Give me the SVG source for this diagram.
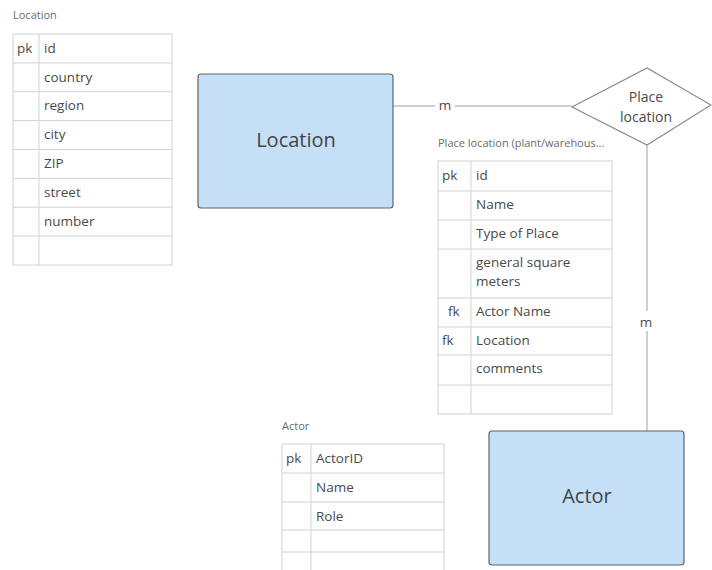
<svg xmlns="http://www.w3.org/2000/svg" width="712" height="570" viewBox="0 0 712 570">
  <style>
    .title { font-family: "Open Sans", "Liberation Sans", sans-serif; font-size: 11px; fill: #6b6b6b; }
    .cell { font-family: "Open Sans", "Liberation Sans", sans-serif; font-size: 13.5px; fill: #4a4a4a; }
    .grid { fill: #ffffff; stroke: #d2d2d2; stroke-width: 1; }
    .line { stroke: #d2d2d2; stroke-width: 1; }
    .entity { fill: #c5e0f6; stroke: #5f6368; stroke-width: 1.2; }
    .big { font-family: "Open Sans", "Liberation Sans", sans-serif; font-size: 20px; fill: #3f4448; text-anchor: middle; }
    .rel { fill: #ffffff; stroke: #8a8a8a; stroke-width: 1.2; }
    .relText { font-family: "Open Sans", "Liberation Sans", sans-serif; font-size: 14px; fill: #4a4a4a; text-anchor: middle; }
    .conn { stroke: #a0a0a0; stroke-width: 1; fill: none; }
    .card { font-family: "Open Sans", "Liberation Sans", sans-serif; font-size: 13.5px; fill: #4a4a4a; text-anchor: middle; }
  </style>
  <rect width="712" height="570" fill="#ffffff"/>

  <!-- connectors -->
  <g id="connectors">
    <line class="conn" x1="393" y1="106" x2="435" y2="106"/>
    <line class="conn" x1="455" y1="106" x2="572" y2="106"/>
    <text class="card" x="445" y="110">m</text>
    <line class="conn" x1="647" y1="145" x2="647" y2="311"/>
    <line class="conn" x1="647" y1="331" x2="647" y2="431"/>
    <text class="card" x="646" y="327">m</text>
  </g>

  <!-- Location table -->
  <g id="table-location">
    <text class="title" x="13" y="19">Location</text>
    <rect class="grid" x="13" y="34" width="159" height="231"/>
    <line class="line" x1="39" y1="34" x2="39" y2="265"/>
    <line class="line" x1="13" y1="62.9" x2="172" y2="62.9"/>
    <line class="line" x1="13" y1="91.8" x2="172" y2="91.8"/>
    <line class="line" x1="13" y1="120.6" x2="172" y2="120.6"/>
    <line class="line" x1="13" y1="149.5" x2="172" y2="149.5"/>
    <line class="line" x1="13" y1="178.4" x2="172" y2="178.4"/>
    <line class="line" x1="13" y1="207.2" x2="172" y2="207.2"/>
    <line class="line" x1="13" y1="236.1" x2="172" y2="236.1"/>
    <text class="cell" x="17" y="53">pk</text>
    <text class="cell" x="44" y="53">id</text>
    <text class="cell" x="44" y="82">country</text>
    <text class="cell" x="44" y="110">region</text>
    <text class="cell" x="44" y="139">city</text>
    <text class="cell" x="44" y="168">ZIP</text>
    <text class="cell" x="44" y="197">street</text>
    <text class="cell" x="44" y="226">number</text>
  </g>

  <!-- Location entity -->
  <g id="entity-location">
    <rect class="entity" x="198" y="74" width="195" height="134" rx="3"/>
    <text class="big" x="296" y="147">Location</text>
  </g>

  <!-- Place location relationship -->
  <g id="rel-place-location">
    <polygon class="rel" points="572,107 647,68 711,105 647,145"/>
    <text class="relText" x="646" y="102">Place</text>
    <text class="relText" x="646" y="122">location</text>
  </g>

  <!-- Place location table -->
  <g id="table-place-location">
    <text class="title" x="438" y="147">Place location (plant/warehous...</text>
    <rect class="grid" x="438" y="161" width="174" height="253"/>
    <line class="line" x1="471" y1="161" x2="471" y2="414"/>
    <line class="line" x1="438" y1="191" x2="612" y2="191"/>
    <line class="line" x1="438" y1="220" x2="612" y2="220"/>
    <line class="line" x1="438" y1="249" x2="612" y2="249"/>
    <line class="line" x1="438" y1="298" x2="612" y2="298"/>
    <line class="line" x1="438" y1="327" x2="612" y2="327"/>
    <line class="line" x1="438" y1="355" x2="612" y2="355"/>
    <line class="line" x1="438" y1="385" x2="612" y2="385"/>
    <text class="cell" x="442" y="180">pk</text>
    <text class="cell" x="476" y="180">id</text>
    <text class="cell" x="476" y="209">Name</text>
    <text class="cell" x="476" y="238">Type of Place</text>
    <text class="cell" x="476" y="267">general square</text>
    <text class="cell" x="476" y="286">meters</text>
    <text class="cell" x="448" y="316">fk</text>
    <text class="cell" x="476" y="316">Actor Name</text>
    <text class="cell" x="442" y="345">fk</text>
    <text class="cell" x="476" y="345">Location</text>
    <text class="cell" x="476" y="373">comments</text>
  </g>

  <!-- Actor table -->
  <g id="table-actor">
    <text class="title" x="282" y="430">Actor</text>
    <rect class="grid" x="282" y="444" width="162" height="140"/>
    <line class="line" x1="311" y1="444" x2="311" y2="584"/>
    <line class="line" x1="282" y1="473" x2="444" y2="473"/>
    <line class="line" x1="282" y1="502" x2="444" y2="502"/>
    <line class="line" x1="282" y1="530" x2="444" y2="530"/>
    <line class="line" x1="282" y1="552" x2="444" y2="552"/>
    <text class="cell" x="286" y="463">pk</text>
    <text class="cell" x="316" y="463">ActorID</text>
    <text class="cell" x="316" y="492">Name</text>
    <text class="cell" x="316" y="521">Role</text>
  </g>

  <!-- Actor entity -->
  <g id="entity-actor">
    <rect class="entity" x="489" y="431" width="195" height="134" rx="3"/>
    <text class="big" x="587" y="503">Actor</text>
  </g>
</svg>
